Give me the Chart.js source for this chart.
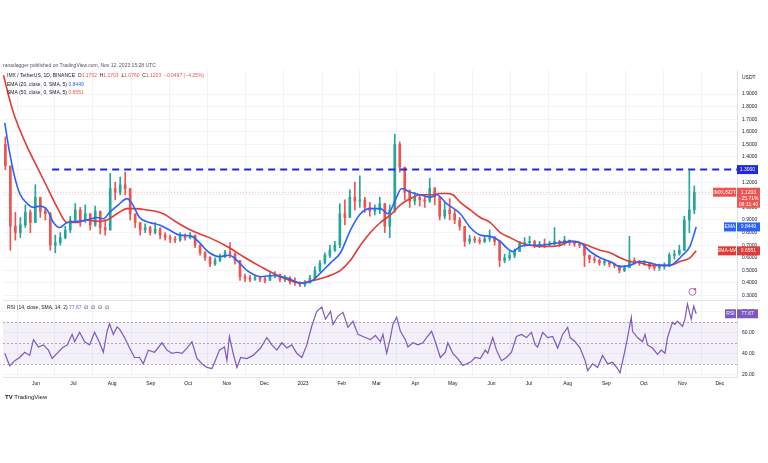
<!DOCTYPE html>
<html>
<head>
<meta charset="utf-8">
<script src="https://cdn.jsdelivr.net/npm/chart.js@4.4.0/dist/chart.umd.min.js"></script>
<style>
  html, body { margin: 0; padding: 0; background: #fff; }
  #wrap { position: relative; width: 768px; height: 463px; overflow: hidden;
          font-family: "Liberation Sans", Arial, sans-serif; color: #131722; }
  #wrap canvas { position: absolute; left: 0; top: 0; }
  .t { position: absolute; font-size: 5px; line-height: 6px; white-space: nowrap; }
  .r { color: #ef5350; }
  .b { color: #2962ff; }
  .p { color: #7e57c2; }
</style>
</head>
<body>
<div id="wrap">
  <canvas id="chart" width="768" height="463"></canvas>
  <div class="t" style="left:3px;top:62px;color:#50535e">ranadagger published on TradingView.com, Nov 12, 2023 15:28 UTC</div>
  <div class="t" style="left:7px;top:72px">IMX / TetherUS, 1D, BINANCE&nbsp; O<span class="r">1.1702</span>&nbsp; H<span class="r">1.1703</span>&nbsp; L<span class="r">1.0760</span>&nbsp; C<span class="r">1.1203</span>&nbsp; <span class="r">−0.0497 (−4.25%)</span></div>
  <div class="t" style="left:7px;top:81px">EMA (20, close, 0, SMA, 5) <span class="b">0.8449</span></div>
  <div class="t" style="left:7px;top:89px">SMA (50, close, 0, SMA, 5) <span class="r">0.6551</span></div>
  <div class="t" style="left:7px;top:304px">RSI (14, close, SMA, 14, 2) <span class="p">77.67</span>&nbsp; ∅&nbsp; ∅&nbsp; ∅&nbsp; ∅</div>
  <div class="t" style="left:5px;top:394px;font-size:6px;line-height:7px"><b>TV</b> TradingView</div>
</div>
<script>
// days are counted from 1 Jun 2022; each candle spans 4 days
const candleStart = -26;
const candleStep = 4;
const firstOpen = 1.50;

const closes = [
  1.33, 0.85, 0.80, 0.86, 0.96, 0.88, 1.08, 0.97, 0.95, 0.70,
  0.72, 0.76, 0.82, 0.90, 0.98, 0.90, 0.95, 0.86, 0.97, 0.84,
  0.82, 1.15, 1.12, 1.18, 1.15, 0.95, 0.88, 0.82, 0.84, 0.80,
  0.83, 0.78, 0.76, 0.75, 0.74, 0.77, 0.76, 0.78, 0.70, 0.64,
  0.60, 0.55, 0.58, 0.61, 0.64, 0.63, 0.58, 0.45, 0.44, 0.43,
  0.44, 0.43, 0.42, 0.46, 0.47, 0.43, 0.44, 0.41, 0.40, 0.39,
  0.40, 0.44, 0.50, 0.56, 0.62, 0.66, 0.70, 0.95, 0.92, 1.08,
  1.05, 1.06, 1.00, 0.97, 0.98, 1.03, 0.85, 0.98, 1.50, 1.32,
  1.12, 1.05, 1.08, 1.06, 1.05, 1.15, 1.08, 0.93, 0.98, 0.95,
  0.90, 0.85, 0.73, 0.75, 0.74, 0.73, 0.75, 0.76, 0.73, 0.58,
  0.60, 0.62, 0.65, 0.71, 0.72, 0.73, 0.70, 0.71, 0.70, 0.71,
  0.73, 0.71, 0.74, 0.72, 0.71, 0.70, 0.62, 0.59, 0.58, 0.56,
  0.57, 0.55, 0.54, 0.50, 0.52, 0.58, 0.57, 0.56, 0.56, 0.53,
  0.52, 0.53, 0.54, 0.62, 0.63, 0.66, 0.90, 0.98, 1.1203
];
const highs = [
  1.56, 1.25, 0.96, 0.92, 1.02, 0.98, 1.18, 1.06, 1.00, 0.96,
  0.78, 0.80, 0.85, 0.93, 1.03, 1.00, 1.02, 0.95, 1.01, 0.97,
  0.90, 1.27, 1.20, 1.24, 1.28, 1.12, 0.93, 0.88, 0.87, 0.85,
  0.88, 0.84, 0.80, 0.78, 0.77, 0.80, 0.79, 0.80, 0.78, 0.70,
  0.65, 0.61, 0.60, 0.63, 0.66, 0.72, 0.64, 0.58, 0.47, 0.46,
  0.46, 0.45, 0.45, 0.48, 0.49, 0.46, 0.46, 0.45, 0.44, 0.41,
  0.42, 0.46, 0.53, 0.58, 0.64, 0.70, 0.73, 1.03, 1.06, 1.14,
  1.20, 1.25, 1.08, 1.04, 1.02, 1.08, 1.03, 1.02, 1.58, 1.52,
  1.30, 1.14, 1.12, 1.10, 1.09, 1.23, 1.16, 1.05, 1.04, 1.07,
  0.98, 0.92, 0.84, 0.78, 0.77, 0.76, 0.77, 0.82, 0.77, 0.74,
  0.63, 0.65, 0.67, 0.73, 0.76, 0.77, 0.74, 0.73, 0.75, 0.73,
  0.84, 0.74, 0.77, 0.74, 0.73, 0.72, 0.70, 0.62, 0.61, 0.59,
  0.59, 0.57, 0.56, 0.54, 0.54, 0.77, 0.60, 0.58, 0.58, 0.56,
  0.55, 0.55, 0.56, 0.64, 0.66, 0.70, 0.93, 1.29, 1.17
];
const lows = [
  1.30, 0.66, 0.74, 0.76, 0.84, 0.80, 0.88, 0.92, 0.90, 0.66,
  0.64, 0.70, 0.75, 0.80, 0.88, 0.85, 0.88, 0.82, 0.85, 0.79,
  0.78, 0.82, 1.06, 1.10, 1.10, 0.90, 0.84, 0.78, 0.80, 0.78,
  0.79, 0.75, 0.74, 0.72, 0.72, 0.73, 0.74, 0.75, 0.68, 0.62,
  0.58, 0.53, 0.54, 0.57, 0.60, 0.60, 0.55, 0.42, 0.41, 0.41,
  0.42, 0.41, 0.40, 0.42, 0.44, 0.41, 0.41, 0.39, 0.38, 0.37,
  0.37, 0.40, 0.44, 0.49, 0.55, 0.60, 0.65, 0.68, 0.86, 0.92,
  0.98, 1.00, 0.96, 0.93, 0.94, 0.95, 0.80, 0.76, 0.96, 1.28,
  1.06, 1.00, 1.02, 1.01, 1.00, 1.04, 1.02, 0.90, 0.91, 0.90,
  0.87, 0.82, 0.69, 0.71, 0.72, 0.71, 0.72, 0.73, 0.70, 0.53,
  0.56, 0.58, 0.60, 0.65, 0.69, 0.70, 0.68, 0.68, 0.68, 0.69,
  0.70, 0.69, 0.70, 0.70, 0.69, 0.68, 0.53, 0.56, 0.56, 0.54,
  0.54, 0.53, 0.52, 0.48, 0.49, 0.53, 0.55, 0.54, 0.54, 0.51,
  0.50, 0.50, 0.51, 0.53, 0.59, 0.62, 0.66, 0.80, 0.95
];

const emaDay = [-25, -21, -17, -13, -7, -2, 3, 9, 14, 19, 25, 33, 41, 49, 54, 59, 66, 73, 77, 83,
  91, 99, 107, 115, 125, 131, 139, 147, 155, 161, 169, 180, 190, 201, 212, 220, 228, 236, 244, 252,
  260, 268, 276, 282, 288, 293, 300, 308, 316, 321, 329, 340, 348, 356, 364, 372, 377, 382, 388, 396,
  404, 412, 420, 428, 436, 444, 452, 460, 468, 476, 484, 492, 500, 508, 514, 518, 524, 529];
const emaVal = [1.67, 1.43, 1.24, 1.11, 1.03, 1.00, 1.01, 0.98, 0.88, 0.84, 0.88, 0.89, 0.90, 0.92, 0.91, 0.96, 1.02, 1.07, 1.03, 0.92,
  0.88, 0.86, 0.82, 0.78, 0.77, 0.72, 0.64, 0.61, 0.62, 0.58, 0.50, 0.45, 0.46, 0.44, 0.40, 0.41, 0.48, 0.56, 0.64, 0.82,
  0.95, 0.99, 0.99, 0.95, 1.06, 1.15, 1.12, 1.10, 1.08, 1.10, 1.03, 0.95, 0.84, 0.78, 0.77, 0.73, 0.68, 0.65, 0.69, 0.70,
  0.70, 0.71, 0.72, 0.73, 0.72, 0.65, 0.60, 0.57, 0.53, 0.54, 0.57, 0.56, 0.54, 0.54, 0.58, 0.62, 0.69, 0.8449];

const smaDay = [-26, -22, -18, -7, 1, 9, 17, 25, 33, 41, 49, 57, 65, 73, 78, 89, 102, 113, 126, 139,
  155, 166, 180, 196, 212, 222, 233, 244, 252, 260, 268, 276, 284, 292, 300, 308, 316, 324, 329, 334,
  340, 348, 356, 364, 372, 380, 388, 396, 404, 412, 420, 428, 436, 444, 452, 460, 468, 476, 484, 492,
  500, 508, 516, 524, 529];
const smaVal = [2.05, 1.89, 1.75, 1.48, 1.32, 1.16, 1.00, 0.88, 0.88, 0.90, 0.89, 0.90, 0.95, 0.99, 0.99, 0.98, 0.95, 0.88, 0.81, 0.76,
  0.68, 0.61, 0.53, 0.45, 0.40, 0.42, 0.45, 0.50, 0.58, 0.70, 0.80, 0.88, 0.94, 1.02, 1.07, 1.10, 1.10, 1.11, 1.11, 1.10,
  1.04, 0.98, 0.92, 0.88, 0.80, 0.76, 0.72, 0.70, 0.69, 0.69, 0.70, 0.73, 0.72, 0.69, 0.66, 0.64, 0.60, 0.57, 0.56, 0.54,
  0.54, 0.54, 0.57, 0.60, 0.6551];

const rsiDay = [-25, -21, -17, -13, -9, -5, -2, 2, 6, 10, 13, 17, 21, 25, 29, 31, 35, 39, 43, 47,
  51, 54, 57, 59, 62, 65, 67, 71, 75, 79, 83, 86, 90, 95, 101, 105, 109, 113, 117, 121,
  125, 129, 133, 137, 141, 143, 147, 151, 153, 155, 158, 161, 164, 169, 174, 180, 185, 189, 193, 197,
  201, 205, 209, 213, 217, 221, 225, 229, 232, 236, 238, 242, 246, 250, 254, 258, 262, 268, 272, 276,
  278, 281, 284, 286, 289, 292, 296, 298, 302, 306, 310, 313, 317, 320, 324, 328, 330, 334, 338, 342,
  348, 352, 356, 360, 362, 366, 369, 373, 377, 381, 385, 389, 393, 397, 400, 402, 406, 410, 414, 418,
  422, 426, 428, 432, 436, 440, 442, 446, 450, 454, 458, 462, 466, 468, 472, 474, 477, 478, 482, 486,
  488, 490, 494, 498, 501, 504, 506, 510, 512, 514, 518, 520, 522, 525, 527, 529];
const rsiVal = [40, 28, 33, 36, 41, 38, 53, 46, 48, 43, 35, 40, 45, 48, 58, 51, 60, 51, 48, 60,
  50, 41, 61, 68, 58, 65, 63, 55, 45, 36, 36, 30, 43, 41, 50, 43, 40, 41, 40, 45,
  51, 35, 30, 26.5, 25.5, 31, 43, 46, 33, 56, 40, 26.5, 36, 35, 38, 45, 55, 48, 43, 50,
  45, 48, 40, 36, 48, 66, 80, 84, 72.5, 80, 67.6, 75.5, 79, 64.7, 70.6, 58, 56, 53, 57, 51,
  58, 40, 55, 67.6, 74.5, 61, 53, 46, 50, 48, 50, 55, 61, 51, 36, 41, 50, 40, 35, 28.4,
  31.4, 36, 35, 43, 40, 55, 43, 33, 36, 41, 56, 58, 55, 60, 48, 46, 60, 55, 56, 45,
  58, 64.7, 55, 51, 45, 33, 23.5, 30, 26.5, 38, 30, 31.4, 25.5, 21.6, 43, 55, 74.5, 61, 55, 51,
  58, 48, 45, 39, 43, 40, 55, 69.6, 67.6, 70.6, 65.7, 72.5, 87, 72.5, 85, 77.67];

const monthDays = [0, 30, 61, 92, 122, 153, 183, 214, 245, 273, 304, 334, 365, 395, 426, 457, 487, 518, 548];
const monthLabels = ["Jun", "Jul", "Aug", "Sep", "Oct", "Nov", "Dec", "2023", "Feb", "Mar", "Apr", "May",
  "Jun", "Jul", "Aug", "Sep", "Oct", "Nov", "Dec"];
const priceTicks = [0.3, 0.4, 0.5, 0.6, 0.7, 0.8, 0.9, 1.0, 1.1, 1.2, 1.3, 1.4, 1.5, 1.6, 1.7, 1.8, 1.9];
const rsiTicks = [20, 40, 60, 80];

const levelPrice = 1.3;
const levelStartDay = 13;
const lastPrice = 1.1203;
const lastEma = 0.8449;
const lastSma = 0.6551;
const lastRsi = 77.67;
const dayMin = -26.4, dayMax = 561.7;

const UP = "#26a69a", DOWN = "#ef5350";
const BLUE = "#2962ff", RED = "#e53935", PURPLE = "#7e57c2", LEVEL = "#1f2ad8";

const opens = closes.map((c, i) => (i === 0 ? firstOpen : closes[i - 1]));
const candleDay = closes.map((c, i) => candleStart + i * candleStep + 1.5);
const candleColors = closes.map((c, i) => (c >= opens[i] ? UP : DOWN));

const pts = (xs, ys) => xs.map((x, i) => ({ x: x, y: ys[i] }));

const panePlugin = {
  id: "panes",
  beforeDatasetsDraw(chart) {
    const { ctx, chartArea, scales } = chart;
    const r = scales.yr;
    ctx.save();
    ctx.fillStyle = "rgba(126,87,194,0.09)";
    const y70 = r.getPixelForValue(70), y30 = r.getPixelForValue(30);
    ctx.fillRect(chartArea.left, y70, chartArea.right - chartArea.left, y30 - y70);
    ctx.strokeStyle = "rgba(120,123,134,0.6)";
    ctx.lineWidth = 1;
    ctx.setLineDash([2, 2]);
    [70, 50, 30].forEach(v => {
      const y = Math.round(r.getPixelForValue(v)) + 0.5;
      ctx.beginPath();
      ctx.moveTo(chartArea.left, y);
      ctx.lineTo(chartArea.right, y);
      ctx.stroke();
    });
    ctx.setLineDash([]);
    // pane separator
    ctx.strokeStyle = "#e0e3eb";
    const sep = Math.round(scales.y.bottom) + 0.5;
    ctx.beginPath();
    ctx.moveTo(chartArea.left, sep);
    ctx.lineTo(chartArea.right + 23, sep);
    ctx.stroke();
    ctx.restore();
  },
  afterDraw(chart) {
    const { ctx, chartArea, scales } = chart;
    const y = scales.y, r = scales.yr;
    const ax = chartArea.right;
    ctx.save();
    ctx.font = '5px "Liberation Sans", Arial, sans-serif';
    ctx.textBaseline = "middle";

    ctx.fillStyle = "#131722";
    ctx.textAlign = "left";
    ctx.fillText("USDT", ax + 5, chartArea.top + 8);

    const box = (x, yc, w, h, fill, lines) => {
      ctx.fillStyle = fill;
      ctx.fillRect(x, yc - 4.5, w, h);
      ctx.fillStyle = "#fff";
      ctx.textAlign = "center";
      lines.forEach((s, i) => ctx.fillText(s, x + w / 2, yc + i * 6));
    };

    box(ax, y.getPixelForValue(levelPrice), 21, 9, LEVEL, ["1.3000"]);
    const yl = y.getPixelForValue(lastPrice);
    box(ax - 24, yl, 23, 9, DOWN, ["IMXUSDT"]);
    box(ax, yl, 23, 20, DOWN, ["1.1203", "−25.71%", "08:31:40"]);
    const ye = y.getPixelForValue(lastEma);
    box(ax - 13, ye, 12, 9, BLUE, ["EMA"]);
    box(ax, ye, 23, 9, BLUE, ["0.8449"]);
    const ys = y.getPixelForValue(lastSma);
    box(ax - 19, ys, 18, 9, RED, ["SMA-MA"]);
    box(ax, ys, 23, 9, RED, ["0.6551"]);
    const yr = r.getPixelForValue(lastRsi);
    box(ax - 12, yr, 11, 9, PURPLE, ["RSI"]);
    box(ax, yr, 21, 9, PURPLE, ["77.67"]);

    // event marker
    const ex = scales.x.getPixelForValue(526), ey = y.getPixelForValue(0.33);
    ctx.strokeStyle = "#9c6fd6";
    ctx.lineWidth = 1;
    ctx.beginPath();
    ctx.arc(ex, ey, 3.5, 0, Math.PI * 2);
    ctx.stroke();
    ctx.fillStyle = "#ef5350";
    ctx.beginPath();
    ctx.arc(ex + 2.5, ey - 2.5, 1.2, 0, Math.PI * 2);
    ctx.fill();
    ctx.restore();
  }
};

const axisFont = { family: '"Liberation Sans", Arial, sans-serif', size: 5 };

new Chart(document.getElementById("chart"), {
  type: "bar",
  data: {
    datasets: [
      {
        type: "line", label: "level", data: [{ x: levelStartDay, y: levelPrice }, { x: dayMax, y: levelPrice }],
        yAxisID: "y", borderColor: LEVEL, borderWidth: 2, borderDash: [7, 5], pointRadius: 0, order: 0
      },
      {
        type: "line", label: "last", data: [{ x: dayMin, y: lastPrice }, { x: dayMax, y: lastPrice }],
        yAxisID: "y", borderColor: "rgba(239,83,80,0.45)", borderWidth: 1, borderDash: [1, 2], pointRadius: 0, order: 1
      },
      {
        type: "line", label: "EMA 20", data: pts(emaDay, emaVal), yAxisID: "y",
        borderColor: BLUE, borderWidth: 1.6, pointRadius: 0, cubicInterpolationMode: "monotone", order: 1
      },
      {
        type: "line", label: "SMA 50", data: pts(smaDay, smaVal), yAxisID: "y",
        borderColor: RED, borderWidth: 1.6, pointRadius: 0, cubicInterpolationMode: "monotone", order: 1
      },
      {
        type: "line", label: "RSI", data: pts(rsiDay, rsiVal), yAxisID: "yr",
        borderColor: PURPLE, borderWidth: 1.2, pointRadius: 0, tension: 0, order: 1
      },
      {
        label: "wick", data: candleDay.map((d, i) => ({ x: d, y: [lows[i], highs[i]] })),
        yAxisID: "y", backgroundColor: candleColors, barThickness: 1, grouped: false, order: 5
      },
      {
        label: "body", data: candleDay.map((d, i) => ({ x: d, y: [opens[i], closes[i]] })),
        yAxisID: "y", backgroundColor: candleColors, barThickness: 2, minBarLength: 1, grouped: false, order: 4
      }
    ]
  },
  options: {
    responsive: false,
    animation: false,
    layout: { padding: { left: 3, right: 8, top: 70, bottom: 73 } },
    plugins: { legend: { display: false }, tooltip: { enabled: false } },
    scales: {
      x: {
        type: "linear", min: dayMin, max: dayMax, offset: false,
        grid: { color: "#f0f3fa", drawTicks: false },
        border: { color: "#e0e3eb" },
        afterBuildTicks: s => { s.ticks = monthDays.map(v => ({ value: v })); },
        afterFit: s => { s.height = 13; },
        ticks: {
          autoSkip: false, maxRotation: 0, padding: 4, color: "#131722", font: axisFont,
          callback: v => monthLabels[monthDays.indexOf(v)]
        }
      },
      y: {
        type: "linear", position: "right", stack: "panes", stackWeight: 230,
        min: 0.265, max: 2.0905,
        grid: { color: "#f3f4f8", drawTicks: false },
        border: { color: "#e0e3eb" },
        afterBuildTicks: s => { s.ticks = priceTicks.map(v => ({ value: v })); },
        afterFit: s => { s.width = 23; },
        ticks: { autoSkip: false, padding: 5, color: "#131722", font: axisFont, callback: v => v.toFixed(4) }
      },
      yr: {
        type: "linear", position: "right", stack: "panes", stackWeight: 77,
        min: 17.4, max: 90.8,
        grid: { color: "#f3f4f8", drawTicks: false },
        border: { color: "#e0e3eb" },
        afterBuildTicks: s => { s.ticks = rsiTicks.map(v => ({ value: v })); },
        afterFit: s => { s.width = 23; },
        ticks: { autoSkip: false, padding: 5, color: "#131722", font: axisFont, callback: v => v.toFixed(2) }
      }
    }
  },
  plugins: [panePlugin]
});
</script>
</body>
</html>
